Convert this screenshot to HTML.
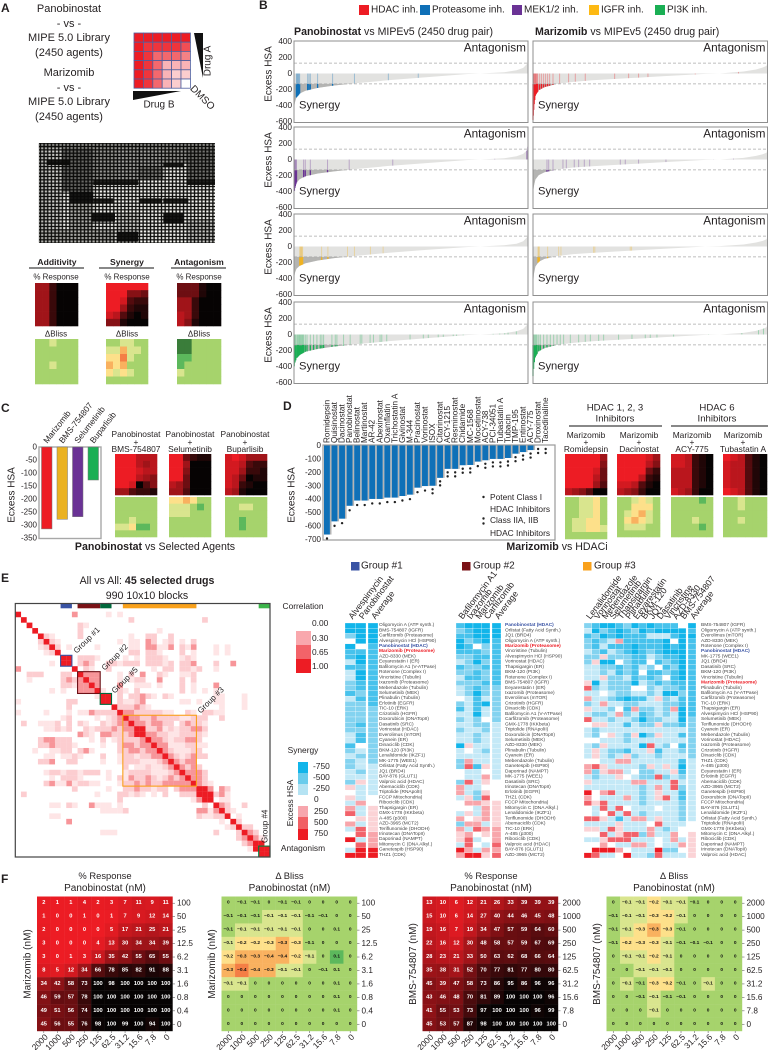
<!DOCTYPE html>
<html lang="en">
<head>
<meta charset="utf-8">
<title>Panobinostat and Marizomib combination screen figure</title>
<style>
html,body{margin:0;padding:0;background:#fff;}
svg{display:block;font-family:"Liberation Sans",sans-serif;}
text{dominant-baseline:central;fill:#231f20;}
.mid{text-anchor:middle;}
.end{text-anchor:end;}
.pl{font-size:12px;font-weight:bold;}
.a{font-size:11px;}
.s8{font-size:8.4px;}
.s10{font-size:10px;}
.s11{font-size:10.6px;}
</style>
</head>
<body>
<svg id="figure" xmlns="http://www.w3.org/2000/svg" width="768" height="1050" viewBox="0 0 768 1050">
<defs>
<pattern id="plate-wells" width="3.67" height="3.33" patternUnits="userSpaceOnUse">
<rect width="3.67" height="3.33" fill="#0c0c0a"/>
<rect x=".7" y=".65" width="2.3" height="2.05" fill="#f4f4f0"/>
</pattern>
</defs>

<!-- Panel letters -->
<text class="pl" x="1" y="8">A</text>
<text class="pl" x="259" y="5">B</text>
<text class="pl" x="1" y="408">C</text>
<text class="pl" x="283" y="406">D</text>
<text class="pl" x="1" y="578">E</text>
<text class="pl" x="1" y="879">F</text>

<!-- Panel A -->
<g>
<text class="a mid" x="69" y="9">Panobinostat</text>
<text class="a mid" x="69" y="24">- vs -</text>
<text class="a mid" x="69" y="38">MIPE 5.0 Library</text>
<text class="a mid" x="69" y="53">(2450 agents)</text>
<text class="a mid" x="69" y="73">Marizomib</text>
<text class="a mid" x="69" y="88">- vs -</text>
<text class="a mid" x="69" y="102">MIPE 5.0 Library</text>
<text class="a mid" x="69" y="117">(2450 agents)</text>
</g>
<g id="dose-grid"></g>
<polygon points="194,33 203,33 203,78" fill="#111"/>
<polygon points="133,91 181,91 133,100" fill="#111"/>
<text class="s10 mid" x="0" y="0" transform="translate(208,61) rotate(-90)">Drug A</text>
<text class="s10 mid" x="159" y="105">Drug B</text>
<text class="s10 mid" x="0" y="0" transform="translate(202,98) rotate(45)">DMSO</text>

<g id="plate">
<rect x="39" y="143" width="176" height="100" fill="url(#plate-wells)"/>
</g>

<g>
<text class="mid" x="57" y="262" style="font-size:8.6px;font-weight:bold">Additivity</text>
<text class="mid" x="127" y="262" style="font-size:8.6px;font-weight:bold">Synergy</text>
<text class="mid" x="199" y="262" style="font-size:8.6px;font-weight:bold">Antagonism</text>
<line x1="29" x2="84" y1="268" y2="268" stroke="#111"/>
<line x1="99" x2="154" y1="268" y2="268" stroke="#111"/>
<line x1="171" x2="226" y1="268" y2="268" stroke="#111"/>
<text class="s8 mid" x="56" y="277" style="font-size:8px">% Response</text>
<text class="s8 mid" x="127" y="277" style="font-size:8px">% Response</text>
<text class="s8 mid" x="199" y="277" style="font-size:8px">% Response</text>
<text class="s8 mid" x="56" y="334" style="font-size:8px">ΔBliss</text>
<text class="s8 mid" x="127" y="334" style="font-size:8px">ΔBliss</text>
<text class="s8 mid" x="199" y="334" style="font-size:8px">ΔBliss</text>
</g>

<!-- Panel B static -->
<g>
<rect x="359" y="5" width="10" height="10" fill="#ed1c24"/>
<text class="s10" x="371" y="10">HDAC inh.</text>
<rect x="420" y="5" width="10" height="10" fill="#0f70b7"/>
<text class="s10" x="432" y="10">Proteasome inh.</text>
<rect x="512" y="5" width="10" height="10" fill="#6a3295"/>
<text class="s10" x="524" y="10">MEK1/2 inh.</text>
<rect x="589" y="5" width="10" height="10" fill="#fdb913"/>
<text class="s10" x="601" y="10">IGFR inh.</text>
<rect x="655" y="5" width="10" height="10" fill="#1aaf54"/>
<text class="s10" x="667" y="10">PI3K inh.</text>
</g>
<text x="294" y="32" class="s11"><tspan font-weight="bold">Panobinostat</tspan> vs MIPEv5 (2450 drug pair)</text>
<text x="535" y="32" class="s11"><tspan font-weight="bold">Marizomib</tspan> vs MIPEv5 (2450 drug pair)</text>
<g id="panel-b"></g>

<!-- Panel C -->
<g id="panel-c"></g>
<text class="s11 mid" x="155" y="547"><tspan font-weight="bold">Panobinostat</tspan> vs Selected Agents</text>
<g>
<text class="s8 mid" x="136" y="434">Panobinostat</text>
<text class="s8 mid" x="136" y="442">+</text>
<text class="s8 mid" x="136" y="449">BMS-754807</text>
<text class="s8 mid" x="190" y="434">Panobinostat</text>
<text class="s8 mid" x="190" y="442">+</text>
<text class="s8 mid" x="190" y="449">Selumetinib</text>
<text class="s8 mid" x="245" y="434">Panobinostat</text>
<text class="s8 mid" x="245" y="442">+</text>
<text class="s8 mid" x="245" y="449">Buparlisib</text>
</g>

<!-- Panel D -->
<g id="panel-d"></g>
<g>
<circle cx="483.500" cy="497" r="1.200" fill="#222"/>
<text class="s8" x="490" y="497">Potent Class I</text>
<text class="s8" x="490" y="509">HDAC Inhibitors</text>
<circle cx="483.500" cy="518.500" r="1.200" fill="#222"/>
<circle cx="483.500" cy="523.500" r="1.200" fill="#222"/>
<text class="s8" x="490" y="520">Class IIA, IIB</text>
<text class="s8" x="490" y="533">HDAC Inhibitors</text>
</g>
<text class="s11 mid" x="557" y="547"><tspan font-weight="bold">Marizomib</tspan> vs HDACi</text>
<g>
<text class="mid" x="615" y="408" style="font-size:9.6px">HDAC 1, 2, 3</text>
<text class="mid" x="615" y="419" style="font-size:9.6px">Inhibitors</text>
<line x1="569" x2="662" y1="426" y2="426" stroke="#111"/>
<text class="mid" x="717" y="408" style="font-size:9.6px">HDAC 6</text>
<text class="mid" x="717" y="419" style="font-size:9.6px">Inhibitors</text>
<line x1="671" x2="768" y1="426" y2="426" stroke="#111"/>
<text class="s8 mid" x="586" y="435">Marizomib</text>
<text class="s8 mid" x="586" y="442">+</text>
<text class="s8 mid" x="586" y="449">Romidepsin</text>
<text class="s8 mid" x="639" y="435">Marizomib</text>
<text class="s8 mid" x="639" y="442">+</text>
<text class="s8 mid" x="639" y="449">Dacinostat</text>
<text class="s8 mid" x="692" y="435">Marizomib</text>
<text class="s8 mid" x="692" y="442">+</text>
<text class="s8 mid" x="692" y="449">ACY-775</text>
<text class="s8 mid" x="743" y="435">Marizomib</text>
<text class="s8 mid" x="743" y="442">+</text>
<text class="s8 mid" x="743" y="449">Tubastatin A</text>
</g>

<!-- Panel E static -->
<text class="s11 mid" x="147" y="581">All vs All: <tspan font-weight="bold">45 selected drugs</tspan></text>
<text class="s11 mid" x="147" y="596">990 10x10 blocks</text>
<g id="corr-matrix"></g>
<g>
<text class="s8 mid" x="303" y="606">Correlation</text>
<rect x="296" y="631" width="15" height="14" fill="#f9a8ad"/>
<rect x="296" y="645" width="15" height="14" fill="#f36369"/>
<rect x="296" y="659" width="15" height="14" fill="#ed1c24"/>
<text class="s8" x="312" y="623">0.00</text>
<text class="s8" x="312" y="638">0.30</text>
<text class="s8" x="312" y="652">0.65</text>
<text class="s8" x="312" y="666">1.00</text>
</g>
<g>
<text class="s8 mid" x="303" y="750">Synergy</text>
<rect x="298" y="762" width="10" height="11" fill="#12b5ea"/>
<rect x="298" y="773" width="10" height="11" fill="#6accec"/>
<rect x="298" y="784" width="10" height="11" fill="#b5e3f3"/>
<rect x="298" y="806" width="10" height="11" fill="#f7a6ad"/>
<rect x="298" y="817" width="10" height="12" fill="#f15f64"/>
<rect x="298" y="829" width="10" height="11" fill="#ed1c24"/>
<text class="s8" x="313" y="766">-750</text>
<text class="s8" x="313" y="777">-500</text>
<text class="s8" x="313" y="788">-250</text>
<text class="s8" x="314" y="799">0</text>
<text class="s8" x="314" y="811">250</text>
<text class="s8" x="314" y="822">500</text>
<text class="s8" x="314" y="833">750</text>
<text class="s8 mid" x="0" y="0" transform="translate(290,803) rotate(-90)">Excess HSA</text>
<text class="s8 mid" x="303" y="848">Antagonism</text>
</g>
<g>
<rect x="351" y="562" width="8.500" height="8.500" fill="#3953a4"/>
<text class="s10" x="361" y="566">Group #1</text>
<rect x="462" y="562" width="8.500" height="8.500" fill="#7a1216"/>
<text class="s10" x="473" y="566">Group #2</text>
<rect x="583" y="562" width="8.500" height="8.500" fill="#f9a11b"/>
<text class="s10" x="594" y="566">Group #3</text>
</g>
<g id="group-heatmaps"></g>

<!-- Panel F -->
<g id="panel-f"></g>
</svg>

<script>
/* ---------- Panel A ---------- */
const schematicRows = ["999999", "988887", "986665", "986333", "986322", "986320"];
const plateShades = [
  [140,480,70,15,.92],[210,575,70,35,.95],[280,540,135,15,.9],[280,595,60,15,.9],[275,640,70,25,.95],
  [350,695,65,30,.95],[420,595,65,15,.92],[490,490,60,12,.9],[490,640,60,30,.95],[490,595,75,15,.9],
  [560,540,85,15,.9],[116,430,529,15,.45],[185,445,95,130,.6],[280,445,70,95,.4],[350,445,70,95,.35],
  [415,500,75,40,.5],[490,445,70,45,.4],[560,445,85,95,.55],[116,690,230,38,.3],[210,610,70,80,.3],
  [350,640,70,55,.15],[116,445,25,245,.12],[415,445,75,55,.35],[116,445,70,245,.15],[560,660,85,68,.2]
];
const addResp = ["337999","337999","337999","337999","337999","337999"];
const addBliss = ["001000","000000","000000","001000","000000","000000"];
const synResp = ["000000","000445","001677","003788","126898","448999"];
const synBliss = ["001100","113110","224100","323000","212100","000000"];
const antResp = ["555899","555899","337999","337999","237999","248999"];
const antBliss = ["660000","660000","550000","500000","100000","000000"];

/* ---------- Panel B ---------- */
const curveRanks = [0,10,25,60,120,250,420,620,980,1350,1800,1950,2200,2330,2400,2440,2450];
const panoMIPE1 = [-430,-360,-300,-250,-215,-180,-150,-125,-85,-50,-8,0,15,40,70,120,200];
const panoMIPE2 = [-420,-350,-290,-245,-210,-175,-148,-122,-82,-48,-8,0,15,40,70,115,190];
const panoMIPE3 = [-400,-330,-280,-240,-210,-175,-145,-120,-80,-45,-8,0,15,35,65,115,190];
const panoMIPE4 = [-410,-350,-300,-255,-215,-180,-150,-125,-85,-50,-8,0,15,40,70,120,210];
const mariMIPE1 = [-580,-400,-270,-210,-170,-130,-105,-85,-60,-35,-5,0,25,50,75,95,130];
const mariMIPE2 = [-420,-330,-250,-195,-160,-125,-100,-85,-60,-35,-5,0,20,45,65,85,130];
const mariMIPE3 = [-480,-340,-250,-190,-155,-120,-95,-80,-55,-30,0,5,25,50,70,90,120];
const mariMIPE4 = [-520,-370,-280,-210,-170,-130,-105,-85,-60,-35,-5,0,20,45,70,90,125];
const panoProteasomeRanks = [25,31,38,45,52,59,143,157,171,247,404,633,988,1301];
const panoMekRanks = [4,9,14,20,26,101,118,171,351,578,1034,2102,2435,2440,2446];
const panoIgfrRanks = [60,66,72,78,84,90,289,355,560,633,800,933];
const panoPi3kRanks = [2,10,18,31,40,49,58,66,75,84,92,101,118,136,171,205,240,275,292,310,397,432,449,519,588,693,710,797,832,901,919,971,1215,1354,1406,1510,1563,1667,1702,1771,2085,2154,2206,2241,2328];
const mariHdacRanks = [0,3,7,12,18,24,28,35,42,49,70,90,111,132,153,174,209,278,372,442,546,853,999,1103,1201,1695,2147];
const mariMekRanks = [146,164,209,313,348,431,477,536,592,912,964,1103,1389,1886,2095];
const mariIgfrRanks = [52,59,66,153,268,292,633,646,1016,1030];
const mariPi3kRanks = [0,6,14,24,33,42,60,77,111,146,181,216,251,285,320,390,477,546,599,686,738,894,1034,1173,1225,1295,1469,1834,2182,2356,2408];
const hsaTicks = [400,200,0,-200,-400,-600];

/* ---------- Panel C ---------- */
const selectedAgents = ["Marizomib","BMS-754807","Selumetinib","Buparlisib"];
const selectedHSA = [-315,-278,-268,-127];
const selectedTicks = [0,-50,-100,-150,-200,-250,-300,-350];
const c1Resp = ["000222","000232","000122","000234","001964","336778"];
const c1Bliss = ["000000","000000","000000","001000","112550","000000"];
const c2Resp = ["005788","003999","004999","005999","235999","336999"];
const c2Bliss = ["223200","111050","111000","000000","000000","000000"];
const c3Resp = ["101333","112677","113778","125988","127899","238999"];
const c3Bliss = ["000000","001100","000000","005000","005000","000000"];

/* ---------- Panel D ---------- */
const hdacDrugs = ["Romidepsin","Quisinostat","Dacinostat","Panobinostat","Belinostat","Martinostat","AR-42","Abexinostat","Oxamflatin","Trichostatin A","Givinostat","M-344","Pracinostat","Vorinostat","ISOX","Citarinostat","ACY-1215","Resminostat","Chidamide","MC-1568","Mocetinostat","ACY-738","PCI-34051","Tubastatin A","Tubacin","TMP-195","Entinostat","ACY-775","Droxinostat","Tacedinaline"];
const hdacHSA = [-663,-565,-545,-449,-410,-410,-398,-398,-388,-388,-376,-366,-314,-302,-300,-241,-174,-174,-147,-145,-120,-110,-100,-100,-93,-61,-49,-34,0,0];
const hdacClass = [1,1,1,1,1,1,1,1,1,1,1,1,1,1,2,2,2,2,2,2,1,2,2,2,2,2,2,2,2,2];
const hdacTicks = [0,-100,-200,-300,-400,-500,-600,-700];
const d1Resp = ["000003","000004","000015","000025","000036","234699"];
const d1Bliss = ["001120","001120","001120","011220","011221","000000"];
const d2Resp = ["000013","000024","000057","000278","112689","234799"];
const d2Bliss = ["001210","002220","012310","023210","011100","000000"];
const d3Resp = ["112789","112789","222789","222789","222789","123799"];
const d3Bliss = ["000050","000000","000000","000100","000050","000000"];
const d4Resp = ["012689","122689","122689","122689","122689","012689"];
const d4Bliss = ["001000","001000","000000","001000","000000","000000"];

/* ---------- Panel E: correlation (symmetric; "col:level") ---------- */
const corrRows = [
 "10:3","20:2 33:2","11:2 12:1","11:2 25:1","5:2 6:1 11:2 20:1 23:2 24:2 27:2",
 "6:2 7:1 20:1 23:3 24:1 27:2 29:1 31:2","7:2 9:1 14:1 20:1 23:3 27:3 29:2 31:3 35:1","20:2 23:2 24:1 29:2 31:1 35:1 37:1",
 "9:4 11:2 12:2 14:1 19:1 21:1 23:2 24:1 26:1 29:1 30:2","11:2 12:3 13:2 19:2 20:2 21:2 23:2 25:2 27:2 29:2 30:2 31:2 35:2 38:3",
 "13:1 26:2 29:2 30:2 32:2","12:3 13:3 14:3 22:2 26:1 29:1 31:2 2:2 3:2 4:1","13:3 14:3 21:2 22:2 25:3 29:2 31:2 2:1 8:1 9:3 10:2","14:3 22:1 23:1 29:1 31:1 8:2 9:2 10:1",
 "15:1 19:1 21:2 31:1 33:1 35:1 6:1","16:4 18:2 20:2 21:2 22:3 23:2","19:1 21:2 22:3 29:1 0:1 9:2 10:2","18:2 19:2 20:2 21:3 22:2 23:1 9:2",
 "19:3 20:3 21:2 22:2 23:2 24:2 25:2 26:1 27:1 30:2 31:1 33:2 36:1 0:1 5:1 9:1 11:1 12:1 13:3 14:2 15:2 16:2",
 "20:3 21:3 22:2 23:2 24:3 25:2 26:2 27:2 28:2 29:1 30:1 31:2 32:2 33:2 36:2",
 "21:3 22:3 23:2 24:3 25:3 26:2 27:2 29:2 30:3 31:2 32:2 33:1 1:2 4:1 11:2 12:1 16:1",
 "22:4 23:2 24:2 25:3 26:1 27:2 28:1 29:2 30:2 31:3 32:3 33:2 5:1 6:1 7:2 9:2 13:1 15:2",
 "23:3 24:3 25:2 26:2 27:1 28:1 29:2 30:2 31:2 32:2 33:1 11:3 12:1 13:1 15:3 16:3",
 "24:3 25:3 26:2 27:1 28:2 29:2 30:3 31:3 32:2 5:1 8:1 9:2 15:1",
 "25:3 26:3 27:1 28:1 29:1 30:2 31:2 32:1 33:1 4:2 5:2 6:3 7:2 8:2 9:2 10:1 15:1",
 "26:3 27:2 28:1 29:1 30:1 31:2 32:2 3:1 6:1 7:1 8:2 9:1 11:2 12:3 13:1",
 "27:3 28:2 29:1 30:2 31:3 32:2 33:2 5:1 6:1 8:1 9:1 15:2",
 "28:3 29:2 30:3 31:3 4:2 5:2 6:3 9:2 10:2 15:1","29:3 30:2 31:3 32:2",
 "30:3 31:3 32:3 33:2 6:2 7:1 9:1 10:1 12:2 13:2 14:2","31:3 32:3 33:2 6:1 9:1 10:1 11:1 16:1",
 "32:3 33:2 34:1 5:2 6:2 8:1 9:3 10:1 11:1 12:1 13:1 18:1","33:4 34:3 36:3 37:2 16:1","34:4 35:2 36:3 37:1 1:2",
 "36:1 37:1 18:2","36:3 37:2 40:2 6:1 7:1 9:2 10:1 13:3 15:1 16:1 18:1","37:2 38:1 15:1 16:1 17:1","39:1 6:1","39:2 9:3","40:2 41:2",
 "41:3 42:2 15:1 16:1 17:1","42:3 43:1","43:4","44:4",""
];
const groupLabels = ["Group #1","Group #2","Group #5","Group #3"];

/* Levels: 0 strongest synergy ... 4 neutral ... 8 strongest antagonism */
const g1Columns = ["Alvespimycin","Panobinostat","Average"];
const g1Drugs = ["Oligomycin A (ATP synth.)","BMS-754807 (IGFR)","Carfilzomib (Proteasome)","Alvespimycin HCl (HSP90)","Panobinostat (HDAC)","Marizomib (Proteasome)","AZD-8330 (MEK)","Eeyarestatin I (ER)","Bafilomycin A1 (V-ATPase)","Rotenone (Complex I)","Vincristine (Tubulin)","Ixazomib (Proteasome)","Mebendazole (Tubulin)","Selumetinib (MEK)","Plinabulin (Tubulin)","Erlotinib (EGFR)","TIC-10 (ERK)","Crizotinib (HGFR)","Doxorubicin (DNATopII)","Dasatinib (SRC)","Vorinostat (HDAC)","Everolimus (mTOR)","Cyanein (ER)","Dinaciclib (CDK)","BKM-120 (PI3K)","Lenalidomide (IKZF1)","MK-1775 (WEE1)","Orlistat (Fatty Acid Synth.)","JQ1 (BRD4)","BAY-876 (GLUT1)","Valproic acid (HDAC)","Abemaciclib (CDK)","Triptolide (RNApolII)","FCCP Mitochondria)","Ribociclib (CDK)","Thapsigargin (ER)","GMX-1778 (IKKbeta)","A-485 (p300)","AZD-3965 (MCT2)","Teriflunomide (DHODH)","Irinotecan (DNATopII)","Daporinad (NAMPT)","Mitomycin C (DNA Alkyl.)","Ganetespib (HSP90)","THZ1 (CDK)"];
const g1Levels = ["000","000","200","400","041","111","101","301","111","301","301","211","211","121","311","221","222","222","222","212","222","312","312","142","232","322","232","233","323","333","253","533","433","534","364","635","735","455","635","375","476","836","476","388","888"];
const g2Columns = ["Bafilomycin A1","Ixazomib","Marizomib","Carfilzomib","Average"];
const g2Drugs = ["Panobinostat (HDAC)","Orlistat (Fatty Acid Synth.)","JQ1 (BRD4)","Oligomycin A (ATP synth.)","Marizomib (Proteasome)","Vincristine (Tubulin)","Alvespimycin HCl (HSP90)","Vorinostat (HDAC)","Thapsigargin (ER)","BKM-120 (PI3K)","Rotenone (Complex I)","BMS-754807 (IGFR)","Eeyarestatin I (ER)","Ixazomib (Proteasome)","Everolimus (mTOR)","Crizotinib (HGFR)","Dinaciclib (CDK)","Bafilomycin A1 (V-ATPase)","Carfilzomib (Proteasome)","GMX-1778 (IKKbeta)","Triptolide (RNApolII)","Doxorubicin (DNATopII)","Selumetinib (MEK)","AZD-8330 (MEK)","Plinabulin (Tubulin)","Cyanein (ER)","Mebendazole (Tubulin)","Ganetespib (HSP90)","Daporinad (NAMPT)","MK-1775 (WEE1)","Dasatinib (SRC)","Irinotecan (DNATopII)","Erlotinib (EGFR)","THZ1 (CDK)","FCCP Mitochondria)","Mitomycin C (DNA Alkyl.)","Lenalidomide (IKZF1)","Teriflunomide (DHODH)","Abemaciclib (CDK)","TIC-10 (ERK)","A-485 (p300)","Ribociclib (CDK)","Valproic acid (HDAC)","BAY-876 (GLUT1)","AZD-3965 (MCT2)"];
const g2Levels = ["10000","21000","11000","02101","01421","11121","22111","32021","12211","22121","31121","22211","32122","32022","43132","23102","13132","33032","23242","33223","23323","33233","33233","05333","34323","33333","26333","27153","43343","43363","27354","63344","63254","35274","46655","44365","35365","64565","26635","63766","56456","57346","37437","86366","68857"];
const g3Columns = ["Lenalidomide","Vorinostat","Mebendazole","Selumetinib","Thapsigargin","Plinabulin","Eeyarestatin","BKM-120","JQ1","Dasatinib","Vincristine","AZD-8330","BMS-754807","Average"];
const g3Drugs = ["BMS-754807 (IGFR)","Oligomycin A (ATP synth.)","Everolimus (mTOR)","AZD-8330 (MEK)","Rotenone (Complex I)","Panobinostat (HDAC)","MK-1775 (WEE1)","JQ1 (BRD4)","Dasatinib (SRC)","BKM-120 (PI3K)","Vincristine (Tubulin)","Marizomib (Proteasome)","Plinabulin (Tubulin)","Bafilomycin A1 (V-ATPase)","Carfilzomib (Proteasome)","TIC-10 (ERK)","Thapsigargin (ER)","Alvespimycin HCl (HSP90)","Selumetinib (MEK)","Teriflunomide (DHODH)","Cyanein (ER)","Mebendazole (Tubulin)","Vorinostat (HDAC)","Ixazomib (Proteasome)","Crizotinib (HGFR)","Dinaciclib (CDK)","THZ1 (CDK)","A-485 (p300)","Eeyarestatin I (ER)","Erlotinib (EGFR)","Abemaciclib (CDK)","AZD-3965 (MCT2)","Ganetespib (HSP90)","Doxorubicin (DNATopII)","FCCP Mitochondria)","BAY-876 (GLUT1)","Lenalidomide (IKZF1)","Orlistat (Fatty Acid Synth.)","Triptolide (RNApolII)","GMX-1778 (IKKbeta)","Mitomycin C (DNA Alkyl.)","Ribociclib (CDK)","Daporinad (NAMPT)","Irinotecan (DNATopII)","Valproic acid (HDAC)"];
const g3Levels = ["21001201011140","30210120100001","12010111333100","21236111110401","21311101110101","32132101210001","22522211321101","25004211412101","33221213241201","33231214112101","33522312124101","50322203212111","72322244232211","33432233230021","63321011352311","23633223332211","53324162232601","32236231232301","73323320223302","45533132252212","32333333333332","32453250253312","44333233333332","32533330732412","35322133513322","35323523323332","44336633333313","67533332535303","62566342233513","32335432272323","53333366333733","33333332363723","84673332353313","64333632357313","75733332333323","43737433343323","43473732333323","77531366353323","33335333473334","55375333632344","44735772633645","33577733343635","44643366343365","48886433382245","87334833273335"];

/* ---------- Panel F ---------- */
const panoDoses = ["2000","1000","500","250","125","62.5","31.2","15.6","7.8","0"];
const mariDoses = ["100","50","25","12.5","6.2","3.1","1.6","0.8","0.4","0"];
const bmsDoses = ["2000","1000","500","250","125","62.5","31.2","15.6","7.8","0"];
const mariResponse = [
 [2,1,1,4,2,3,7,11,9,11],[1,0,0,1,0,1,7,9,12,14],[2,0,0,0,0,5,17,21,25,21],[3,0,0,0,4,13,30,34,34,39],
 [3,0,1,3,16,35,42,55,65,55],[8,5,12,34,66,78,85,82,91,88],[34,42,58,73,100,98,100,100,100,100],
 [46,59,57,78,100,100,100,100,100,100],[49,51,56,74,100,100,100,100,100,100],[45,56,55,76,98,100,99,100,94,100]];
const mariBliss = [
 [0,-.06,-.06,0,-.06,-.06,0,0,0,0],[-.06,-.06,-.06,-.1,-.1,-.1,-.06,-.06,0,0],[-.06,-.1,-.1,-.15,-.15,-.15,0,0,.06,0],
 [-.1,-.2,-.2,-.26,-.34,-.26,-.06,0,0,0],[-.2,-.3,-.3,-.36,-.36,-.2,-.1,0,.14,0],[-.32,-.44,-.36,-.3,-.15,-.1,0,-.06,.06,0],
 [-.1,-.1,0,0,0,0,0,0,.06,0],[0,0,0,0,0,0,0,0,.06,0],[0,0,0,0,0,0,0,0,.06,0],[0,0,0,0,0,0,0,0,0,0]];
const bmsResponse = [
 [13,10,6,12,21,26,33,39,39,39],[15,10,6,14,27,40,44,46,45,48],[19,16,7,19,34,47,57,59,64,60],[22,16,12,30,48,58,57,59,67,69],
 [28,23,21,33,50,63,62,68,66,64],[35,38,31,52,70,77,81,77,80,80],[45,39,47,58,73,86,95,86,96,96],[43,46,48,70,81,89,100,100,100,96],
 [41,55,53,73,97,100,100,100,96,99],[45,53,57,87,98,100,100,100,100,100]];
const bmsBliss = [
 [0,-.1,-.15,-.2,-.15,-.1,-.06,0,0,0],[-.06,-.15,-.15,-.26,-.2,-.1,0,0,0,0],[-.06,-.15,-.26,-.34,-.26,-.06,0,0,0,0],
 [-.06,-.2,-.26,-.26,-.15,-.06,-.06,-.06,0,0],[0,-.1,-.15,-.2,-.1,0,0,0,0,0],[0,0,-.1,-.15,-.1,0,0,0,0,0],
 [0,-.1,-.06,-.26,-.2,-.06,0,-.1,0,0],[0,0,-.06,-.1,-.06,-.06,0,0,0,0],[0,0,0,-.1,0,0,0,0,0,0],[0,0,0,0,0,0,0,0,0,0]];

/* ---------- Drawing ---------- */
const NS = "http://www.w3.org/2000/svg";
function mk(tag, attrs, parent){
  const el = document.createElementNS(NS, tag);
  for (const k in attrs) el.setAttribute(k, attrs[k]);
  parent.appendChild(el);
  return el;
}
function label(x, y, str, size, anchor, parent, rot){
  const el = mk("text", {x:x, y:y, "font-size":size, "text-anchor":anchor||"start"}, parent);
  if (rot !== undefined) el.setAttribute("transform", "rotate(" + rot + " " + x + " " + y + ")");
  el.textContent = str;
  return el;
}
function mix(a, b, t){
  return "rgb(" + a.map((v,i)=>Math.round(v+(b[i]-v)*t)).join(",") + ")";
}
const RED = [237,28,36], BLACK = [6,3,3], WHITE = [255,255,255];
const blissPal = ["#a6d36c","#d9e58e","#fde08a","#f9b15f","#f47e45","#5cb85c","#3a7d3a"];

/* schematic */
const gridG = document.getElementById("dose-grid");
const gridSize = 9.4;
schematicRows.forEach((row, r) => {
  [...row].forEach((d, c) => {
    const el = mk("rect", {x:134+c*gridSize, y:33+r*9.2, width:gridSize, height:9.2, fill:mix(WHITE, RED, (+d)/9), stroke:"#4f5f9f", "stroke-width":.8}, gridG);
    
    
  });
});
/* plate */
const plateG = document.getElementById("plate");
plateShades.forEach(s => {
  const el = mk("rect", {x:s[0]/3, y:s[1]/3, width:s[2]/3, height:s[3]/3, fill:"#0a0a08", opacity:s[4]}, plateG);
  
  
});

/* small heatmaps */
const figure = document.getElementById("figure");
function smallHeat(name, x, y, w, h, rows, isBliss){
  const g = mk("g", {}, figure);
  
  
  const cw = w/6, ch = h/6;
  rows.forEach((row, r) => {
    [...row].forEach((d, c) => {
      const fill = isBliss ? blissPal[+d] : mix(RED, BLACK, (+d)/9);
      const el = mk("rect", {x:x+c*cw, y:y+r*ch, width:cw+.3, height:ch+.3, fill:fill}, g);
      
      
    });
  });
}
smallHeat("additivity-response", 35, 283, 43, 43, addResp, false);
smallHeat("additivity-bliss", 35, 339, 43, 45, addBliss, true);
smallHeat("synergy-response", 106, 283, 42, 43, synResp, false);
smallHeat("synergy-bliss", 106, 339, 42, 45, synBliss, true);
smallHeat("antagonism-response", 177, 283, 44, 43, antResp, false);
smallHeat("antagonism-bliss", 177, 339, 44, 45, antBliss, true);
smallHeat("bms-response", 115, 454, 42, 41, c1Resp, false);
smallHeat("bms-bliss", 115, 497, 42, 40, c1Bliss, true);
smallHeat("selumetinib-response", 169, 454, 42, 41, c2Resp, false);
smallHeat("selumetinib-bliss", 169, 497, 42, 40, c2Bliss, true);
smallHeat("buparlisib-response", 225, 454, 42, 41, c3Resp, false);
smallHeat("buparlisib-bliss", 225, 497, 42, 40, c3Bliss, true);
smallHeat("romidepsin-response", 565, 454, 42, 41, d1Resp, false);
smallHeat("romidepsin-bliss", 565, 497, 42, 42, d1Bliss, true);
smallHeat("dacinostat-response", 617, 454, 43, 41, d2Resp, false);
smallHeat("dacinostat-bliss", 617, 497, 43, 40, d2Bliss, true);
smallHeat("acy775-response", 671, 454, 42, 41, d3Resp, false);
smallHeat("acy775-bliss", 671, 497, 42, 40, d3Bliss, true);
smallHeat("tubastatin-response", 723, 454, 44, 41, d4Resp, false);
smallHeat("tubastatin-bliss", 723, 497, 44, 40, d4Bliss, true);

/* Panel B */
const panelB = document.getElementById("panel-b");
const HSA_SCALE = 0.08;
const SYN_CUT = -130;
const CUT_POS = 130;
function curveAt(values, rank){
  for (let i = 1; i < curveRanks.length; i++){
    if (rank <= curveRanks[i]){
      const t = (rank-curveRanks[i-1])/(curveRanks[i]-curveRanks[i-1]);
      return values[i-1]+(values[i]-values[i-1])*t;
    }
  }
  return values[values.length-1];
}
let clipCount = 0;
function waterfall(name, left, width, top, values, ranks, color, drawAxis){
  const g = mk("g", {}, panelB);
  
  
  const zero = top + 32.5;
  const X = r => left + r/2450*width;
  const Y = v => zero - v*HSA_SCALE;
  const pts = curveRanks.map((r,i)=>X(r)+","+Y(values[i])).join(" ");
  const poly = X(0)+","+zero+" "+pts+" "+X(2450)+","+zero;
  const bg = mk("polygon", {points:poly, fill:"#e2e2e0"}, g);
  
  
  const id = "syn-clip-" + (clipCount++);
  const cp = mk("clipPath", {id:id}, g);
  mk("rect", {x:left, y:Y(SYN_CUT), width:width, height:60}, cp);
  const dk = mk("polygon", {points:poly, fill:"#b4b4b2", "clip-path":"url(#"+id+")"}, g);
  
  
  ranks.forEach(rank => {
    const v = curveAt(values, rank);
    const x = X(rank);
    const edge = v < SYN_CUT ? SYN_CUT : v;
    const pale = mk("line", {x1:x, x2:x, y1:zero, y2:Y(edge), stroke:color, "stroke-width":1, opacity:.33}, g);
    
    
    if (v < SYN_CUT){
      const strong = mk("line", {x1:x, x2:x, y1:Y(SYN_CUT), y2:Y(v), stroke:color, "stroke-width":1.3}, g);
      
      
    }
  });
  [CUT_POS, SYN_CUT].forEach(v => {
    const d = mk("line", {x1:left, x2:left+width, y1:Y(v), y2:Y(v), stroke:"#a8a8a8", "stroke-width":.7, "stroke-dasharray":"3 2"}, g);
    
    
  });
  const frame = mk("rect", {x:left, y:top, width:width, height:81.5, fill:"none", stroke:"#8f8f8f", "stroke-width":1}, g);
  
  
  const ant = label(left+width-2, top+6.5, "Antagonism", 11.8, "end", g);
  
  
  const syn = label(left+5, top+64.5, "Synergy", 11.2, "start", g);
  
  
  if (drawAxis){
    hsaTicks.forEach(v => {
      const tk = label(left-2, Y(v), String(v), 8.2, "end", g);
      
      
    });
    const yt = label(269, top+33, "Ecxess HSA", 10, "middle", g, -90);
    
    
  }
}
const bTops = [41,127,214,302];
const leftCurves = [panoMIPE1,panoMIPE2,panoMIPE3,panoMIPE4];
const rightCurves = [mariMIPE1,mariMIPE2,mariMIPE3,mariMIPE4];
const leftRanks = [panoProteasomeRanks,panoMekRanks,panoIgfrRanks,panoPi3kRanks];
const rightRanks = [mariHdacRanks,mariMekRanks,mariIgfrRanks,mariPi3kRanks];
const leftColors = ["#0f70b7","#6a3295","#f0b323","#1aaf54"];
const rightColors = ["#ed1c24","#6a3295","#f0b323","#1aaf54"];
bTops.forEach((top,i) => {
  waterfall("left-waterfall-"+(i+1), 294, 234, top, leftCurves[i], leftRanks[i], leftColors[i], true);
  waterfall("right-waterfall-"+(i+1), 533, 234.5, top, rightCurves[i], rightRanks[i], rightColors[i], false);
});

/* Panel C */
const panelC = document.getElementById("panel-c");
const cScale = v => 447 - v*(91/350);
const cFrame = mk("rect", {x:39, y:447, width:62, height:91.5, fill:"#fff", stroke:"#a8a8a8", "stroke-width":1.4}, panelC);


const cColors = ["#ed1c24","#eab221","#6a3295","#1aaf54"];
selectedAgents.forEach((name,i) => {
  const x = 41.500 + i*15.500;
  const bar = mk("rect", {x:x, y:447, width:10.500, height:cScale(selectedHSA[i])-447, fill:cColors[i], stroke:"#777", "stroke-width":.5}, panelC);
  
  
  const tl = label(x+3.500, 442, name, 8.4, "start", panelC, -52);
  
  
});
selectedTicks.forEach(v => {
  const tk = label(37, cScale(v), String(v), 8, "end", panelC);
  
  
});
const cYTitle = label(12, 495, "Ecxess HSA", 10, "middle", panelC, -90);



/* Panel D */
const panelD = document.getElementById("panel-d");
const dY = v => 445.500 - v*(94/700);
const dFrame = mk("rect", {x:323, y:445, width:232, height:95, fill:"#fff", stroke:"#9a9a9a", "stroke-width":1.2}, panelD);


hdacDrugs.forEach((drug,i) => {
  const x = 324 + i*7.540;
  const gap = mk("rect", {x:x+5.900, y:445.500, width:1.600, height:Math.max(0,dY(hdacHSA[i])-445.500), fill:"#b4b4b4"}, panelD);
  
  
  const bar = mk("rect", {x:x, y:445.500, width:5.900, height:Math.max(0,dY(hdacHSA[i])-445.500), fill:"#0f70b7"}, panelD);
  
  
  const yb = Math.min(dY(hdacHSA[i]), 534);
  const marks = hdacClass[i] === 1 ? [yb+4.500] : [yb+3.500, yb+7.500];
  marks.forEach(my => {
    const m = mk("circle", {cx:x+3, cy:my, r:1.200, fill:"#222"}, panelD);
    
    
  });
  const tl = label(x+3, 443, drug, 8.2, "start", panelD, -90);
  
  
});
hdacTicks.forEach(v => {
  const tk = label(321, dY(v), String(v), 8, "end", panelD);
  
  
});
const dYTitle = label(292, 495, "Ecxess HSA", 10, "middle", panelD, -90);



/* Panel E: correlation matrix */
const corrG = document.getElementById("corr-matrix");
const MX = 15.300, MY = 611.700, CW = 254.700/45, CH = 245.300/45;
const mCol = c => MX + c*CW;
const mRow = r => MY + r*CH;
const corrPal = [null,"#fee5e6","#fccdd0","#f79599","#ed1c24"];
const frameM = mk("rect", {x:15.300, y:603.500, width:254.700, height:253.500, fill:"#fff"}, corrG);


const lv = {};
corrRows.forEach((row,r) => {
  row.split(" ").filter(Boolean).forEach(tok => {
    const p = tok.split(":");
    const c = +p[0], l = +p[1];
    if (!(lv[r+"_"+c] >= l)) lv[r+"_"+c] = l;
    if (!(lv[c+"_"+r] >= l)) lv[c+"_"+r] = l;
  });
});
for (let i = 0; i < 45; i++) lv[i+"_"+i] = 4;
Object.keys(lv).forEach(k => {
  const p = k.split("_");
  const l = lv[k];
  if (l > 0){
    const cell = mk("rect", {x:mCol(+p[1]), y:mRow(+p[0]), width:CW+.1, height:CH+.1, fill:corrPal[l]}, corrG);
    
    
  }
});
const stripSpec = [[8,10,"#3953a4"],[11,15,"#7a1216"],[15,17,"#00693c"],[19,32,"#f9a11b"],[43,45,"#3cb54a"]];
stripSpec.forEach(s => {
  const st = mk("rect", {x:mCol(s[0]), y:604, width:(s[1]-s[0])*CW, height:4.300, fill:s[2]}, corrG);
  
  
});
const boxSpec = [[8,10,"#3953a4"],[11,15,"#6d1016"],[15,17,"#00693c"],[19,32,"#f9a11b"],[43,45,"#00803c"]];
boxSpec.forEach(s => {
  const b = mk("rect", {x:mCol(s[0]), y:mRow(s[0]), width:(s[1]-s[0])*CW, height:(s[1]-s[0])*CH, fill:"none", stroke:s[2], "stroke-width":1.1}, corrG);
  
  
});
const groupAnchor = [[75,652],[103,669],[113,692],[199,712]];
groupLabels.forEach((g,i) => {
  const tl = label(groupAnchor[i][0], groupAnchor[i][1], g, 8, "start", corrG, -45);
  
  
});
const g4 = label(265, 843, "Group #4", 8, "start", corrG, -90);


const frameM2 = mk("rect", {x:15.300, y:603.500, width:254.700, height:253.500, fill:"none", stroke:"#444", "stroke-width":1.200}, corrG);



/* Panel E: drug-by-drug heatmaps */
const hsaPal = ["#12b5ea","#47c2ec","#83d3f0","#c4e9f7","#ffffff","#fbd3d6","#f8a5aa","#f2626a","#ed1c24"];
const groupHeat = document.getElementById("group-heatmaps");
function drugHeat(name, x0, cellW, avgX, avgW, labelX, columns, drugs, levels){
  const g = mk("g", {}, groupHeat);
  
  
  const top = 623, rowH = 235/45;
  const n = columns.length;
  levels.forEach((row,r) => {
    [...row].forEach((d,c) => {
      const isAvg = c === n-1;
      const cell = mk("rect", {x:isAvg?avgX:x0+c*cellW, y:top+r*rowH, width:isAvg?avgW:cellW, height:rowH, fill:hsaPal[+d], stroke:"#fff", "stroke-width":.25}, g);
      
      
    });
    const drug = drugs[r];
    const lab = label(labelX, top+r*rowH+rowH/2, drug, 4.800, "start", g);
    
    
    lab.style.fill = "#444";
    if (drug.indexOf("Panobinostat") === 0){ lab.style.fill = "#3953a4"; lab.style.fontWeight = "bold"; }
    if (drug.indexOf("Marizomib") === 0){ lab.style.fill = "#ed1c24"; lab.style.fontWeight = "bold"; }
  });
  columns.forEach((c,i) => {
    const cx = i === n-1 ? avgX + avgW/2 : x0 + (i+.5)*cellW;
    const tl = label(cx, 618, c, 8.800, "start", g, -53);
    
    
  });
}
drugHeat("group-1-heatmap", 345, 10.500, 368, 10, 379, g1Columns, g1Drugs, g1Levels);
drugHeat("group-2-heatmap", 456, 8.500, 492, 9, 505, g2Columns, g2Drugs, g2Levels);
drugHeat("group-3-heatmap", 584, 7.850, 688, 8, 701, g3Columns, g3Drugs, g3Levels);

/* Panel F */
const panelF = document.getElementById("panel-f");
function blissColor(v){
  if (v >= .1) return "#5cb85c";
  if (v > -.08) return "#a6d36c";
  if (v > -.18) return "#d9e58e";
  if (v > -.28) return "#fde08a";
  if (v > -.4) return "#f9b15f";
  return "#f47e45";
}
function blissText(v){
  if (v === 0) return "0";
  const s = Math.abs(v).toFixed(1);
  return v < 0 ? "−" + (s === "0.0" ? "0.1" : s) : (s === "0.0" ? "0.1" : s);
}
function doseHeat(name, x0, yTitle, title1, yDoses, xDoses, values, isBliss, titleX){
  const g = mk("g", {}, panelF);
  
  
  const top = 896.500, W = 135.500, H = 134.500;
  const cw = W/10, ch = H/10;
  values.forEach((row,r) => {
    row.forEach((v,c) => {
      const fill = isBliss ? blissColor(v) : mix(RED, BLACK, v/100);
      const cell = mk("rect", {x:x0+c*cw, y:top+r*ch, width:cw+.2, height:ch+.2, fill:fill}, g);
      
      
      const t = label(x0+(c+.5)*cw, top+(r+.5)*ch, isBliss ? blissText(v) : String(v), isBliss ? 4.800 : 5.700, "middle", g);
      
      
      t.style.fontWeight = "bold";
      t.style.fill = isBliss ? "#111" : "#fff";
    });
  });
  yDoses.forEach((d,r) => {
    const y = top+(r+.5)*ch;
    const tick = mk("line", {x1:x0+W, x2:x0+W+2.500, y1:y, y2:y, stroke:"#666", "stroke-width":.6}, g);
    
    
    const tl = label(x0+W+4.500, y, d, 8.200, "start", g);
    
    
  });
  xDoses.forEach((d,c) => {
    const cx = x0+(c+.5)*cw;
    const tick = mk("line", {x1:cx, x2:cx, y1:top+H, y2:top+H+2, stroke:"#666", "stroke-width":.6}, g);
    
    
    const tl = label(cx+2.500, top+H+4.500, d, 8.400, "end", g, -45);
    
    
  });
  const tt = label(titleX, 875.500, title1, 9.400, "middle", g);
  
  
  const xt = label(titleX, 888.500, "Panobinostat (nM)", 10, "middle", g);
  
  
  const yt = label(x0-9, 964, yTitle, 10, "middle", g, -90);
  
  
}
doseHeat("marizomib-response-heatmap", 37, "Marizomib (nM)", "% Response", mariDoses, panoDoses, mariResponse, false, 105);
doseHeat("marizomib-bliss-heatmap", 221.500, "Marizomib (nM)", "Δ Bliss", mariDoses, panoDoses, mariBliss, true, 289.500);
doseHeat("bms-response-heatmap", 422.500, "BMS-754807 (nM)", "% Response", bmsDoses, panoDoses, bmsResponse, false, 491);
doseHeat("bms-bliss-heatmap", 606.500, "BMS-754807 (nM)", "Δ Bliss", bmsDoses, panoDoses, bmsBliss, true, 674);
</script>
</body>
</html>
